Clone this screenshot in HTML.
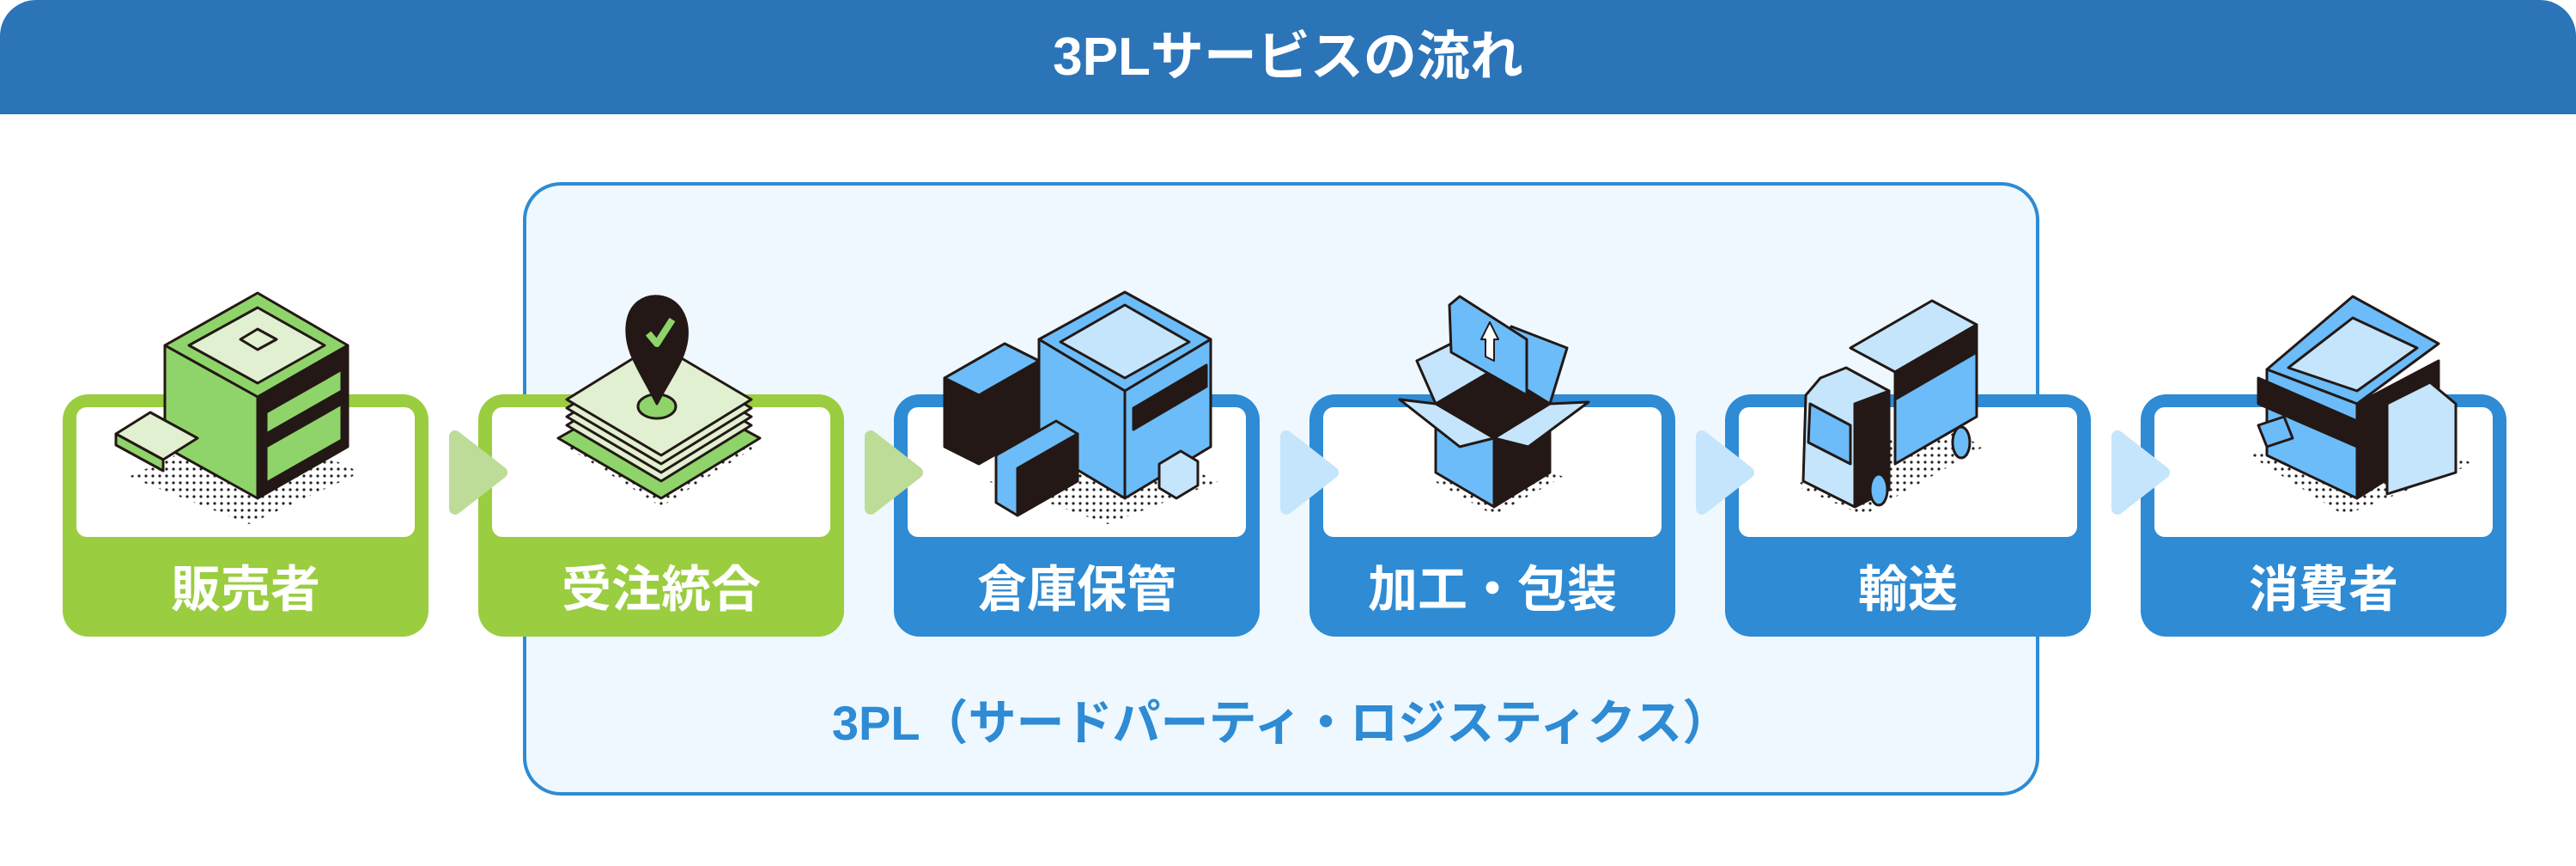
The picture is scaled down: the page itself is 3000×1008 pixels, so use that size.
<!DOCTYPE html>
<html><head><meta charset="utf-8">
<style>
*{margin:0;padding:0;box-sizing:border-box}
body{width:3000px;height:1008px;background:#fff;position:relative;overflow:hidden;font-family:"Liberation Sans","Noto Sans CJK JP",sans-serif}
.hdr{position:absolute;left:0;top:0;width:3000px;height:133px;background:#2b74b8;border-radius:42px 42px 0 0;color:#fff;font-weight:bold;font-size:62px;text-align:center;line-height:133px}
.cont{position:absolute;left:609px;top:212px;width:1766px;height:714px;background:#eef8fe;border:4px solid #2e8bd4;border-radius:44px}
.lbl3{position:absolute;left:609px;width:1766px;top:806px;text-align:center;color:#2e8bd4;font-weight:bold;font-size:56px;line-height:72px}
.box{position:absolute;top:459px;width:426px;height:282px;border-radius:30px}
.box .in{position:absolute;left:16px;top:15px;right:16px;height:151px;background:#fff;border-radius:12px}
.box span{position:absolute;left:0;right:0;top:192px;text-align:center;color:#fff;font-weight:bold;font-size:58px;line-height:72px}
.g{background:#9acd3f}.b{background:#2e8bd4}
svg{position:absolute;left:0;top:0}
</style></head><body>
<div class="hdr">3PLサービスの流れ</div>
<div class="cont"></div>
<div class="lbl3">3PL（サードパーティ・ロジスティクス）</div>

<div class="box g" style="left:73px"><div class="in"></div><span>販売者</span></div>
<div class="box g" style="left:557px"><div class="in"></div><span>受注統合</span></div>
<div class="box b" style="left:1041px"><div class="in"></div><span>倉庫保管</span></div>
<div class="box b" style="left:1525px"><div class="in"></div><span>加工・包装</span></div>
<div class="box b" style="left:2009px"><div class="in"></div><span>輸送</span></div>
<div class="box b" style="left:2493px"><div class="in"></div><span>消費者</span></div>

<svg width="3000" height="1008" viewBox="0 0 3000 1008">
<defs>
<pattern id="dots" width="8" height="8" patternUnits="userSpaceOnUse"><circle cx="2" cy="2" r="1.6" fill="#222"/></pattern>
</defs>
<g stroke-linejoin="round" stroke-width="14">
<path d="M530 508 L584 550 L530 592 Z" fill="#bddc98" stroke="#bddc98"/>
<path d="M1014 508 L1068 550 L1014 592 Z" fill="#bddc98" stroke="#bddc98"/>
<path d="M1498 508 L1552 550 L1498 592 Z" fill="#c4e5fb" stroke="#c4e5fb"/>
<path d="M1982 508 L2036 550 L1982 592 Z" fill="#c4e5fb" stroke="#c4e5fb"/>
<path d="M2466 508 L2520 550 L2466 592 Z" fill="#c4e5fb" stroke="#c4e5fb"/>
</g>
<g stroke="#231815" stroke-width="3" stroke-linejoin="round">
<path d="M150 555 L290 610 L420 550 L290 490 Z" fill="url(#dots)" stroke="none"/>
<path d="M300 341 L405 402 L300 462 L192 402 Z" fill="#8fd46a"/>
<path d="M300 358 L378 402 L300 446 L220 402 Z" fill="#e0f0d0"/>
<path d="M192 402 L300 462 L300 580 L192 520 Z" fill="#8fd46a"/>
<path d="M300 462 L405 402 L405 520 L300 580 Z" fill="#231815"/>
<path d="M310 480 L398 430 L398 455 L310 505 Z" fill="#8fd46a"/>
<path d="M310 520 L398 470 L398 512 L310 562 Z" fill="#8fd46a"/>
<path d="M280 395 L300 383 L322 395 L300 407 Z" fill="#e0f0d0"/>
<path d="M135 505 L175 480 L230 510 L190 535 Z" fill="#e0f0d0"/>
<path d="M135 505 L190 535 L190 548 L135 518 Z" fill="#8fd46a"/>
<path d="M660 520 L770 590 L880 520 L770 455 Z" fill="url(#dots)" stroke="none"/>
<path d="M650 510 L770 580 L885 510 L765 445 Z" fill="#8fd46a"/>
<path d="M660 495 L770 560 L875 495 L765 430 Z" fill="#e0f0d0"/>
<path d="M660 485 L770 550 L875 485 L765 420 Z" fill="#e0f0d0"/>
<path d="M660 475 L770 540 L875 475 L765 410 Z" fill="#e0f0d0"/>
<path d="M660 465 L770 530 L875 465 L765 400 Z" fill="#e0f0d0"/>
<ellipse cx="765" cy="473" rx="22" ry="14" fill="#8fd46a"/>
<path d="M765 470 C745 430 728 410 730 380 C732 352 752 343 768 345 C790 348 803 368 800 395 C797 420 780 440 765 470 Z" fill="#231815"/>
<path d="M755 388 L765 400 L783 372" fill="none" stroke="#8fd46a" stroke-width="8"/>
<path d="M1150 560 L1290 610 L1420 560 L1270 500 Z" fill="url(#dots)" stroke="none"/>
<path d="M1310 385 L1410 440 L1310 500 L1210 440 Z" fill="#6bbcf8" transform="translate(0,-45)"/>
<path d="M1310 355 L1385 398 L1310 440 L1235 398 Z" fill="#c4e5fb"/>
<path d="M1210 395 L1310 455 L1310 580 L1210 520 Z" fill="#6bbcf8"/>
<path d="M1310 455 L1410 395 L1410 520 L1310 580 Z" fill="#6bbcf8"/>
<path d="M1320 475 L1405 425 L1405 450 L1320 500 Z" fill="#231815"/>
<path d="M1100 440 L1170 400 L1210 420 L1210 500 L1140 540 L1100 520 Z" fill="#231815"/>
<path d="M1100 440 L1170 400 L1210 420 L1140 460 Z" fill="#6bbcf8"/>
<path d="M1160 530 L1230 490 L1255 505 L1255 560 L1185 600 L1160 585 Z" fill="#6bbcf8"/>
<path d="M1185 545 L1255 505 L1255 560 L1185 600 Z" fill="#231815"/>
<path d="M1350 540 L1375 525 L1395 537 L1395 565 L1370 580 L1350 568 Z" fill="#c4e5fb"/>
<path d="M1670 560 L1740 600 L1820 555 L1745 515 Z" fill="url(#dots)" stroke="none"/>
<path d="M1672 470 L1740 510 L1740 590 L1672 550 Z" fill="#6bbcf8"/>
<path d="M1740 510 L1805 470 L1805 550 L1740 590 Z" fill="#231815"/>
<path d="M1672 470 L1740 430 L1805 470 L1740 510 Z" fill="#231815"/>
<path d="M1630 465 L1672 470 L1740 510 L1700 520 Z" fill="#c4e5fb"/>
<path d="M1740 510 L1805 470 L1850 468 L1780 520 Z" fill="#c4e5fb"/>
<path d="M1672 470 L1650 420 L1700 395 L1740 430 Z" fill="#c4e5fb"/>
<path d="M1740 430 L1760 380 L1825 405 L1805 470 Z" fill="#6bbcf8"/>
<path d="M1688 355 L1700 345 L1778 395 L1778 460 L1690 410 Z" fill="#6bbcf8"/>
<path d="M1725 395 L1735 375 L1745 395 L1740 395 L1740 420 L1730 415 L1730 395 Z" fill="#fff" stroke-width="2"/>
<path d="M2090 565 L2170 600 L2310 520 L2250 490 Z" fill="url(#dots)" stroke="none"/>
<path d="M2155 405 L2250 350 L2302 378 L2207 433 Z" fill="#c4e5fb"/>
<path d="M2207 433 L2302 378 L2302 485 L2207 540 Z" fill="#6bbcf8"/>
<path d="M2207 433 L2302 378 L2302 410 L2207 465 Z" fill="#231815"/>
<path d="M2120 440 L2150 428 L2200 455 L2200 570 L2160 590 L2100 560 L2103 460 Z" fill="#c4e5fb"/>
<path d="M2160 470 L2200 455 L2200 570 L2160 590 Z" fill="#231815"/>
<path d="M2108 470 L2155 495 L2155 540 L2106 515 Z" fill="#6bbcf8"/>
<ellipse cx="2188" cy="570" rx="10" ry="18" fill="#6bbcf8"/>
<ellipse cx="2284" cy="515" rx="10" ry="18" fill="#6bbcf8"/>
<path d="M2620 530 L2730 600 L2880 540 L2780 490 Z" fill="url(#dots)" stroke="none"/>
<path d="M2640 430 L2740 345 L2840 400 L2745 470 Z" fill="#6bbcf8"/>
<path d="M2665 428 L2740 370 L2815 405 L2745 455 Z" fill="#c4e5fb"/>
<path d="M2640 430 L2745 470 L2745 580 L2640 530 Z" fill="#6bbcf8"/>
<path d="M2745 470 L2840 420 L2840 520 L2745 580 Z" fill="#231815"/>
<path d="M2630 440 L2745 490 L2745 520 L2630 470 Z" fill="#231815"/>
<path d="M2780 470 L2830 445 L2860 470 L2860 550 L2780 575 Z" fill="#c4e5fb"/>
<path d="M2630 495 L2660 485 L2670 510 L2640 520 Z" fill="#6bbcf8"/>
</g>
</svg>
</body></html>
